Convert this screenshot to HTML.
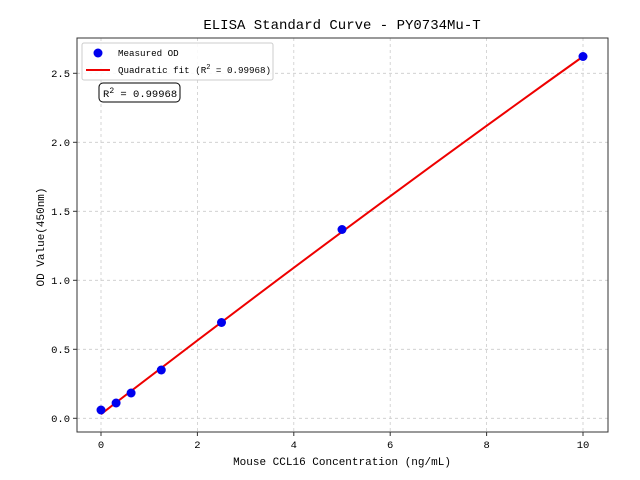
<!DOCTYPE html><html><head><style>body{margin:0;background:#fff}svg{display:block}text{font-family:"Liberation Mono","WenQuanYi Zen Hei",monospace;fill:#000}</style></head><body>
<svg width="640" height="480" viewBox="0 0 640 480">
<g stroke="#ccc" stroke-dasharray="3,3" stroke-width="0.8">
<line x1="101" y1="38" x2="101" y2="432"/><line x1="197.4" y1="38" x2="197.4" y2="432"/><line x1="293.8" y1="38" x2="293.8" y2="432"/><line x1="390.2" y1="38" x2="390.2" y2="432"/><line x1="486.6" y1="38" x2="486.6" y2="432"/><line x1="583" y1="38" x2="583" y2="432"/>
<line x1="77" y1="418.3" x2="608" y2="418.3"/><line x1="77" y1="349.3" x2="608" y2="349.3"/><line x1="77" y1="280.3" x2="608" y2="280.3"/><line x1="77" y1="211.3" x2="608" y2="211.3"/><line x1="77" y1="142.3" x2="608" y2="142.3"/><line x1="77" y1="73.3" x2="608" y2="73.3"/>
</g>
<path fill="none" stroke="#e00" stroke-width="2" d="M101,414.2 Q342,228.3 583,56.5"/>
<g fill="#0000ee">
<circle cx="101" cy="410" r="4.5"/><circle cx="116.1" cy="403" r="4.5"/><circle cx="131.1" cy="393" r="4.5"/><circle cx="161.3" cy="370" r="4.5"/><circle cx="221.5" cy="322.5" r="4.5"/><circle cx="342" cy="229.5" r="4.5"/><circle cx="583" cy="56.5" r="4.5"/>
</g>
<rect x="77" y="38" width="531" height="394" fill="none" stroke="#333" stroke-width="1"/>
<g stroke="#333"><line x1="101" y1="432" x2="101" y2="436"/><line x1="197.4" y1="432" x2="197.4" y2="436"/><line x1="293.8" y1="432" x2="293.8" y2="436"/><line x1="390.2" y1="432" x2="390.2" y2="436"/><line x1="486.6" y1="432" x2="486.6" y2="436"/><line x1="583" y1="432" x2="583" y2="436"/>
<line x1="73" y1="418.3" x2="77" y2="418.3"/><line x1="73" y1="349.3" x2="77" y2="349.3"/><line x1="73" y1="280.3" x2="77" y2="280.3"/><line x1="73" y1="211.3" x2="77" y2="211.3"/><line x1="73" y1="142.3" x2="77" y2="142.3"/><line x1="73" y1="73.3" x2="77" y2="73.3"/></g>
<g font-size="10.5" text-anchor="middle"><text x="101" y="448">0</text><text x="197.4" y="448">2</text><text x="293.8" y="448">4</text><text x="390.2" y="448">6</text><text x="486.6" y="448">8</text><text x="583" y="448">10</text></g>
<g font-size="10.5" text-anchor="end"><text x="70" y="422">0.0</text><text x="70" y="353">0.5</text><text x="70" y="284">1.0</text><text x="70" y="215">1.5</text><text x="70" y="146">2.0</text><text x="70" y="77">2.5</text></g>
<text x="342" y="465" font-size="11" text-anchor="middle">Mouse CCL16 Concentration (ng/mL)</text>
<text transform="translate(44,237) rotate(-90)" font-size="11" text-anchor="middle">OD Value(450nm)</text>
<text x="342" y="29" font-size="14" text-anchor="middle">ELISA Standard Curve - PY0734Mu-T</text>
<rect x="82" y="43" width="191" height="37" rx="2" fill="#fff" fill-opacity="0.85" stroke="#ccc"/>
<circle cx="98" cy="53" r="4.5" fill="#0000ee"/>
<line x1="86" y1="70" x2="110" y2="70" stroke="#e00" stroke-width="2"/>
<text x="118" y="56" font-size="9.2">Measured OD</text>
<text x="118" y="73" font-size="9.2">Quadratic fit (R<tspan font-size="7" dy="-4">2</tspan><tspan dy="4"> = 0.99968)</tspan></text>
<rect x="99" y="83" width="81" height="19" rx="4" fill="#fff" stroke="#000"/>
<text x="103" y="97" font-size="10.5">R<tspan font-size="8" dy="-4">2</tspan><tspan dy="4"> = 0.99968</tspan></text>
</svg></body></html>
